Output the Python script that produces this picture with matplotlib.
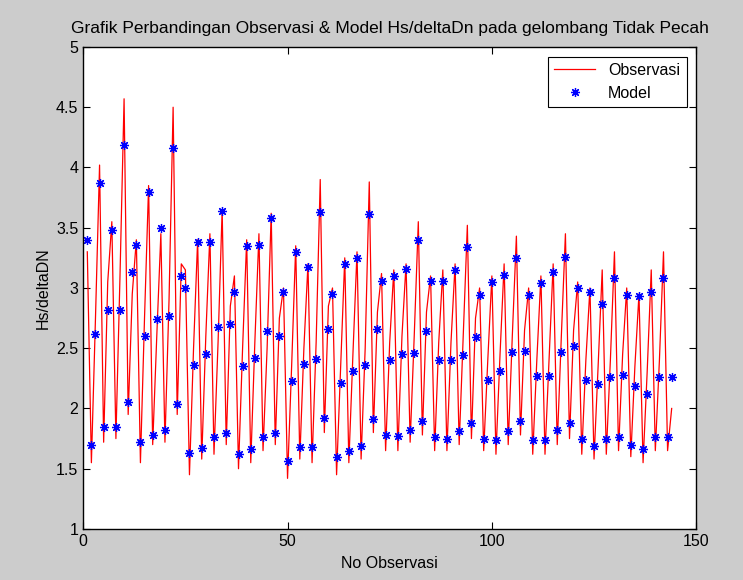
import numpy as np
from matplotlib import pyplot as plt
from matplotlib.ticker import FormatStrFormatter

# No observasi 1..144
no_obs = np.arange(1, 145)

model = [3.40, 1.70, 2.62, 3.87, 1.85, 2.82, 3.48, 1.85, 2.82, 4.19,
         2.05, 3.13, 3.36, 1.72, 2.60, 3.80, 1.78, 2.74, 3.50, 1.82,
         2.77, 4.16, 2.04, 3.10, 3.00, 1.63, 2.36, 3.38, 1.67, 2.45,
         3.38, 1.76, 2.68, 3.64, 1.80, 2.70, 2.97, 1.62, 2.35, 3.35,
         1.66, 2.42, 3.36, 1.76, 2.64, 3.58, 1.80, 2.60, 2.97, 1.56,
         2.23, 3.30, 1.68, 2.37, 3.17, 1.68, 2.41, 3.63, 1.92, 2.66,
         2.95, 1.60, 2.21, 3.20, 1.65, 2.31, 3.25, 1.69, 2.36, 3.61,
         1.91, 2.66, 3.06, 1.78, 2.40, 3.10, 1.77, 2.45, 3.16, 1.82,
         2.46, 3.40, 1.90, 2.64, 3.06, 1.76, 2.40, 3.06, 1.75, 2.40,
         3.15, 1.81, 2.44, 3.34, 1.88, 2.59, 2.94, 1.75, 2.24, 3.05,
         1.74, 2.31, 3.11, 1.81, 2.47, 3.25, 1.90, 2.48, 2.94, 1.74,
         2.27, 3.04, 1.74, 2.27, 3.13, 1.82, 2.47, 3.26, 1.88, 2.52,
         3.00, 1.75, 2.24, 2.97, 1.69, 2.20, 2.87, 1.75, 2.26, 3.08,
         1.76, 2.28, 2.94, 1.70, 2.19, 2.93, 1.66, 2.12, 2.97, 1.76,
         2.26, 3.08, 1.76, 2.26]

observasi = [3.30, 1.55, 2.75, 4.02, 1.72, 3.05, 3.55, 1.75, 3.10, 4.57,
             1.95, 2.95, 3.40, 1.55, 2.75, 3.85, 1.70, 2.60, 3.45, 1.72,
             2.90, 4.50, 1.95, 3.20, 3.15, 1.45, 2.50, 3.40, 1.58, 2.60,
             3.45, 1.62, 2.55, 3.65, 1.70, 2.85, 3.10, 1.50, 2.50, 3.40,
             1.55, 2.55, 3.45, 1.65, 2.50, 3.62, 1.70, 2.75, 3.00, 1.42,
             2.35, 3.35, 1.58, 2.50, 3.20, 1.55, 2.55, 3.90, 1.80, 2.85,
             3.00, 1.45, 2.35, 3.25, 1.55, 2.45, 3.30, 1.58, 2.50, 3.88,
             1.80, 2.80, 3.12, 1.65, 2.55, 3.15, 1.65, 2.60, 3.20, 1.72,
             2.60, 3.55, 1.78, 2.80, 3.10, 1.65, 2.55, 3.15, 1.65, 2.55,
             3.20, 1.70, 2.60, 3.52, 1.75, 2.75, 3.00, 1.65, 2.40, 3.10,
             1.62, 2.45, 3.20, 1.70, 2.60, 3.43, 1.78, 2.65, 3.00, 1.62,
             2.40, 3.10, 1.62, 2.40, 3.20, 1.70, 2.60, 3.45, 1.75, 2.65,
             3.05, 1.62, 2.40, 3.00, 1.58, 2.35, 3.15, 1.62, 2.40, 3.30,
             1.65, 2.45, 3.00, 1.60, 2.35, 2.95, 1.55, 2.30, 3.15, 1.65,
             2.40, 3.30, 1.65, 2.00]

plt.rcParams['font.family'] = ['Liberation Sans', 'DejaVu Sans']

fig = plt.figure(figsize=(7.43, 5.80), dpi=100, facecolor='#cccccc')
ax = fig.add_axes([0.112, 0.088, 0.825, 0.831])
ax.set_facecolor('white')

ax.plot(no_obs, observasi, 'r-', linewidth=0.9, label='Observasi')
ax.plot(no_obs, model, linestyle='none', marker=(8, 2, 0), markersize=6.5,
        markeredgewidth=0.9, color='blue', label='Model')

ax.set_xlim(0, 150)
ax.set_ylim(1, 5)
ax.set_xticks([0, 50, 100, 150])
ax.set_yticks(np.arange(1, 5.01, 0.5))
ax.yaxis.set_major_formatter(FormatStrFormatter('%g'))
ax.tick_params(direction='in', top=True, right=True, labelsize=11.5, length=5)
for s in ax.spines.values():
    s.set_linewidth(1.0)

ax.set_title('Grafik Perbandingan Observasi & Model Hs/deltaDn pada gelombang Tidak Pecah',
             fontsize=12.5, pad=10)
ax.set_xlabel('No Observasi', fontsize=11.5, labelpad=5)
ax.set_ylabel('Hs/deltaDN', fontsize=11.5, labelpad=4)

leg = ax.legend(loc='upper right', fontsize=11.5, fancybox=False, framealpha=1,
                edgecolor='black', borderaxespad=0.6, handlelength=2.6)
leg.get_frame().set_linewidth(0.8)

fig.savefig('out.png', dpi=100, facecolor=fig.get_facecolor())
